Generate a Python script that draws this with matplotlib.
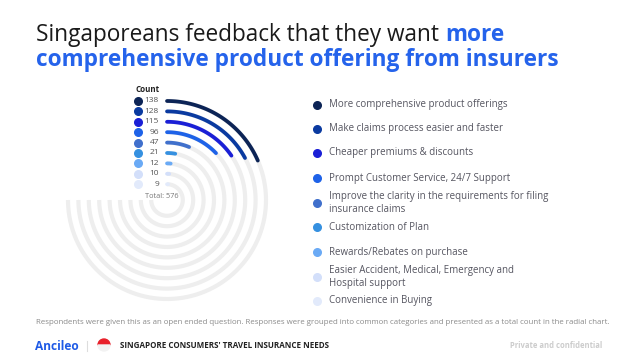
import numpy as np
import matplotlib.pyplot as plt
from matplotlib.patches import Wedge

# data
categories = ['More comprehensive product offerings',
              'Make claims process easier and faster',
              'Cheaper premiums & discounts',
              'Prompt Customer Service, 24/7 Support',
              'Improve the clarity in the requirements for filing\ninsurance claims',
              'Customization of Plan',
              'Rewards/Rebates on purchase',
              'Easier Accident, Medical, Emergency and\nHospital support',
              'Convenience in Buying']
counts = [138, 128, 115, 96, 47, 21, 12, 10, 9]
colors = ['#0c2456', '#0a3aa0', '#1a1fd6', '#1e62e8', '#4070cc',
          '#3590e0', '#6aaaf5', '#d3dffa', '#e2eafb']
total = sum(counts)

plt.rcParams['font.family'] = ['Open Sans', 'DejaVu Sans']

fig = plt.figure(figsize=(6.28, 3.59), dpi=100)
ax = fig.add_axes([0, 0, 1, 1])
ax.set_xlim(0, 628)
ax.set_ylim(359, 0)
ax.set_aspect('equal')
ax.axis('off')

# radial chart (pixel coords, y down)
cx, cy = 167, 200
r0, dr = 99, 10.4
scale_max = 560.0   # value that would fill the 270 deg track
for i, (v, c) in enumerate(zip(counts, colors)):
    r = r0 - i * dr
    # grey track: 12 o'clock clockwise round to 9 o'clock
    t = np.radians(np.linspace(0, 270, 200))
    ax.plot(cx + r * np.sin(t), cy - r * np.cos(t), color='#eeeeee', lw=3.0,
            solid_capstyle='butt', zorder=1)
    t = np.radians(np.linspace(0, v / scale_max * 270, 100))
    ax.plot(cx + r * np.sin(t), cy - r * np.cos(t), color=c, lw=2.7,
            solid_capstyle='round', zorder=2)
    # left legend
    y = cy - r
    ax.scatter(138, y, s=30, color=c, zorder=3)
    ax.text(159, y, str(v), ha='right', va='center', fontsize=6.0, color='#555555')

ax.text(136, 89, 'Count', ha='left', va='center', fontsize=5.8,
        fontweight='bold', color='#222222')
ax.text(145, 197, 'Total: %d' % total, ha='left', va='center', fontsize=5.3,
        color='#777777')

# right legend
legend_y = [105, 129, 153, 178, 203, 227, 252, 277, 301]
for lab, c, y in zip(categories, colors, legend_y):
    ax.scatter(317, y, s=30, color=c, zorder=3)
    ax.text(329, y, lab, ha='left', va='center', fontsize=7.0,
            color='#555560', linespacing=1.15)

# title
fs = 16.3
t1 = ax.text(36, 41, 'Singaporeans feedback that they want ', ha='left',
             va='baseline', fontsize=fs, color='#1a1a1a')
fig.canvas.draw()
x_more = t1.get_window_extent().x1
ax.text(x_more, 41, 'more', ha='left', va='baseline', fontsize=fs,
        fontweight='bold', color='#2563eb')
ax.text(36, 66, 'comprehensive product offering from insurers', ha='left',
        va='baseline', fontsize=fs, fontweight='bold', color='#2563eb')

# footer
ax.text(36, 323, 'Respondents were given this as an open ended question. Responses were '
        'grouped into common categories and presented as a total count in the radial chart.',
        ha='left', va='center', fontsize=5.65, color='#8a8a8a')
ax.text(35, 346, 'Ancileo', ha='left', va='center', fontsize=8.6,
        fontweight='bold', color='#1e5ae6')
ax.plot([87, 87], [341, 351], color='#dddddd', lw=0.8)
ax.add_patch(Wedge((104, 345), 6, 180, 360, color='#e8202a'))
ax.add_patch(Wedge((104, 345), 6, 0, 180, color='#f2f2f2'))
ax.text(120, 346, "SINGAPORE CONSUMERS' TRAVEL INSURANCE NEEDS", ha='left',
        va='center', fontsize=5.8, fontweight='bold', color='#222222')
ax.text(510, 346, 'Private and confidential', ha='left', va='center',
        fontsize=5.5, fontweight='bold', color='#cccccc')

fig.savefig('out.png', dpi=100)
